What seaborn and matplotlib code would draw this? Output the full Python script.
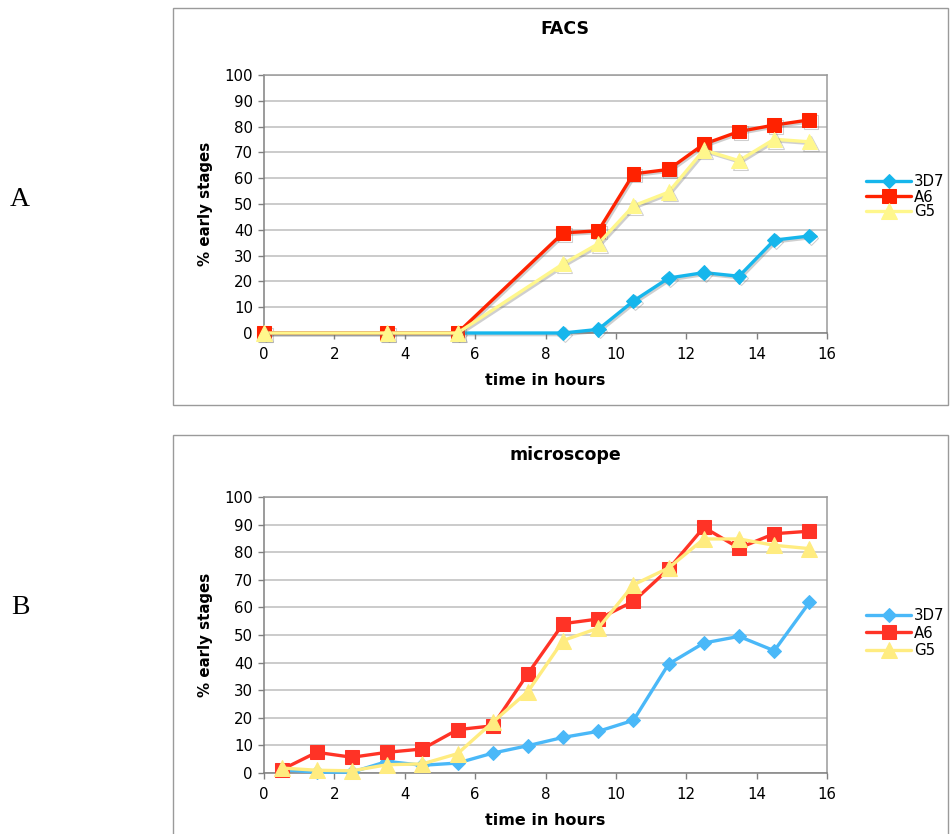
import matplotlib
matplotlib.use("Agg")
import matplotlib.pyplot as plt
import matplotlib.patheffects as pe
from matplotlib.patches import Rectangle
import numpy as np
import pandas as pd
import seaborn as sns

# ---- data -------------------------------------------------------------
strains = ["3D7", "A6", "G5"]

facs_time = [0, 3.5, 5.5, 8.5, 9.5, 10.5, 11.5, 12.5, 13.5, 14.5, 15.5]
facs_3d7 = [0, 0, 0, 0, 1.4, 12.4, 21.3, 23.4, 22.0, 36.0, 37.6]
facs_a6 = [0, 0, 0, 38.8, 39.6, 61.7, 63.4, 73.2, 78.1, 80.6, 82.6]
facs_g5 = [0, 0, 0, 26.8, 34.6, 49.3, 54.6, 70.9, 66.8, 75.1, 74.1]

micro_time = [0.5, 1.5, 2.5, 3.5, 4.5, 5.5, 6.5, 7.5, 8.5, 9.5, 10.5, 11.5, 12.5, 13.5, 14.5, 15.5]
micro_3d7 = [1.2, 0.3, 0.3, 4.2, 2.8, 3.6, 7.2, 9.9, 12.9, 15.1, 19.1, 39.5, 47.1, 49.5, 44.3, 61.8]
micro_a6 = [1.2, 7.5, 5.7, 7.5, 8.7, 15.7, 17.1, 36.0, 54.1, 55.8, 62.2, 73.9, 89.0, 81.5, 86.7, 87.6]
micro_g5 = [1.8, 1.0, 0.8, 3.0, 3.3, 7.0, 18.4, 29.5, 48.0, 52.5, 68.2, 74.3, 84.8, 84.8, 82.5, 81.3]

x_ticks = [0, 2, 4, 6, 8, 10, 12, 14, 16]
y_ticks = [0, 10, 20, 30, 40, 50, 60, 70, 80, 90, 100]


def long_frame(time, series):
    rows = []
    for name, vals in zip(strains, series):
        for t, v in zip(time, vals):
            rows.append({"time": t, "pct": v, "strain": name})
    return pd.DataFrame(rows)


facs_df = long_frame(facs_time, [facs_3d7, facs_a6, facs_g5])
micro_df = long_frame(micro_time, [micro_3d7, micro_a6, micro_g5])

sns.set_theme(style="white")
plt.rcParams["font.family"] = ["DejaVu Sans"]
plt.rcParams["text.color"] = "black"
plt.rcParams["axes.labelcolor"] = "black"
plt.rcParams["xtick.color"] = "black"
plt.rcParams["ytick.color"] = "black"

W, H = 952, 834
fig = plt.figure(figsize=(W / 100, H / 100), dpi=100)
fig.patch.set_facecolor("white")

markers = {"3D7": "D", "A6": "s", "G5": "^"}
sizes = {"3D7": 7.5, "A6": 10, "G5": 11}


def fx(px):
    return px / W


def fy(py):
    return 1 - py / H


def panel(rect_px, ax_px, df, palette, title, title_y, legend_y, legend_gap, shadow):
    # frame around the panel
    x0, y0, x1, y1 = rect_px
    fig.patches.append(Rectangle((fx(x0), fy(y1)), fx(x1) - fx(x0), fy(y0) - fy(y1),
                                 transform=fig.transFigure, fill=False,
                                 edgecolor="#9a9a9a", linewidth=1.0))
    l, t, r, b = ax_px
    ax = fig.add_axes([fx(l), fy(b), fx(r) - fx(l), fy(t) - fy(b)])
    for name in strains:
        sub = df[df["strain"] == name]
        sns.lineplot(data=sub, x="time", y="pct", ax=ax, color=palette[name],
                     marker=markers[name], markersize=sizes[name],
                     markeredgecolor=palette[name], linewidth=2.4, label=name,
                     estimator=None, sort=False, zorder=3, clip_on=False)
    if shadow:
        for ln in ax.get_lines():
            ln.set_path_effects([pe.SimpleLineShadow(offset=(1.2, -1.2), shadow_color="#777777", alpha=0.35),
                                 pe.Normal()])
    ax.set_xlim(0, 16)
    ax.set_ylim(0, 100)
    ax.set_xticks(x_ticks)
    ax.set_yticks(y_ticks)
    ax.grid(axis="y", color="#bdbdbd", linewidth=1.1)
    ax.set_axisbelow(True)
    for side, sp in ax.spines.items():
        sp.set_visible(True)
        sp.set_color("#9a9a9a")
        sp.set_linewidth(1.1)
    ax.spines["left"].set_color("#808080")
    ax.spines["bottom"].set_color("#808080")
    ax.tick_params(axis="both", which="major", direction="out", length=4, width=1,
                   color="#808080", labelcolor="black", labelsize=10.8, pad=4,
                   left=True, bottom=True)
    ax.tick_params(axis="x", pad=6)
    ax.set_xlabel("time in hours", fontsize=11.5, fontweight="bold", labelpad=8)
    ax.set_ylabel("% early stages", fontsize=10.8, fontweight="bold", labelpad=8)
    fig.text(fx(565), fy(title_y), title, ha="center", va="center",
             fontsize=12.5, fontweight="bold")
    handles, labels = ax.get_legend_handles_labels()
    if ax.get_legend() is not None:
        ax.get_legend().remove()
    leg = fig.legend(handles, labels, loc="center left",
                     bbox_to_anchor=(fx(860), fy(legend_y)), frameon=False,
                     fontsize=10.8, handlelength=3.0, handletextpad=0.2,
                     labelspacing=legend_gap, borderaxespad=0)
    for lh in leg.get_lines():
        lh.set_path_effects([])
    return ax


pal_a = {"3D7": "#16b6ec", "A6": "#ff2200", "G5": "#fff78c"}
pal_b = {"3D7": "#4ab8f8", "A6": "#ff3326", "G5": "#ffec80"}

panel((173, 8, 948, 405), (264, 75, 827, 333), facs_df, pal_a, "FACS", 29, 197, 0.0, True)
panel((173, 435, 948, 840), (264, 497, 827, 773), micro_df, pal_b, "microscope", 455, 633, 0.15, False)

fig.text(fx(20), fy(200), "A", fontsize=20, family="Liberation Serif", ha="center", va="center")
fig.text(fx(20), fy(607), "B", fontsize=20, family="Liberation Serif", ha="center", va="center")

fig.savefig("out.png", dpi=100, facecolor="white")
